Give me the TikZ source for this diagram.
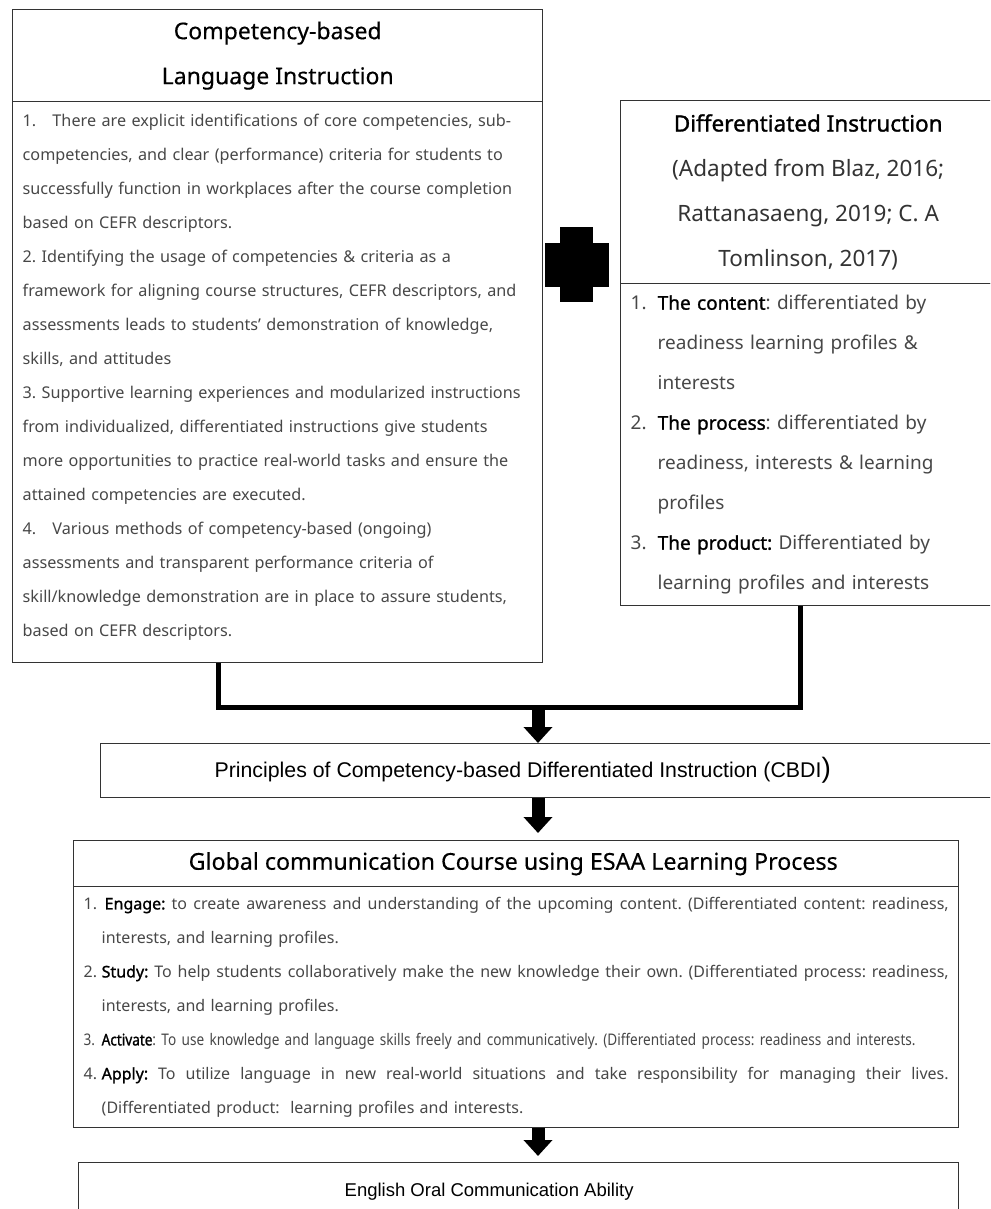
\documentclass[tikz,border=0pt]{standalone}
\usepackage{fontspec}
\setmainfont{Noto Sans}[AutoFakeBold=1.3]
\newfontfamily\arialfont{Liberation Sans}
\newfontfamily\condfont[FakeStretch=0.85,AutoFakeBold=1.3]{Noto Sans}
\newfontfamily\semifont[FakeBold=0.4]{Noto Sans}
\usetikzlibrary{arrows.meta,positioning}

\newcommand{\numlab}[2][27pt]{\makebox[#1][l]{#2}}
\newcommand{\justline}[2]{\makebox[#1][s]{\spaceskip=0pt\xspaceskip=0pt\relax #2}}

\begin{document}
\frenchspacing
\begin{tikzpicture}[
    x=1pt, y=-1pt,
    box/.style={
        rectangle,
        draw=black!80,
        line width=1.4pt,
        inner sep=0pt,
        anchor=north west
    },
    head/.style={
        box,
        align=center,
        text=black
    },
    body/.style={
        box,
        align=left,
        text=black!72
    },
    joinline/.style={
        line width=5pt,
        black
    },
    bigarrow/.style={
        line width=13pt,
        -{Triangle[width=28pt,length=16pt]},
        black
    }
]

\useasboundingbox (0,0) rectangle (990,1209);
\clip (0,0) rectangle (990,1209);

% Competency-based box
\node[head, minimum width=530, minimum height=92,
      font=\semifont\fontsize{23}{45}\selectfont] (cbliHead) at (12,9) {
    Competency-based\\Language Instruction
};
\node[body, minimum width=530, minimum height=561, text width=510, inner xsep=10pt,
      font=\fontsize{16.2}{34}\selectfont] (cbliBody) at (12,101) {
    1.\ \ \ There are explicit identifications of core competencies, sub-\\
    competencies, and clear (performance) criteria for students to\\
    successfully function in workplaces after the course completion\\
    based on CEFR descriptors.\\
    2. Identifying the usage of competencies \& criteria as a\\
    framework for aligning course structures, CEFR descriptors, and\\
    assessments leads to students’ demonstration of knowledge,\\
    skills, and attitudes\\
    3. Supportive learning experiences and modularized instructions\\
    from individualized, differentiated instructions give students\\
    more opportunities to practice real-world tasks and ensure the\\
    attained competencies are executed.\\
    4.\ \ \ Various methods of competency-based (ongoing)\\
    assessments and transparent performance criteria of\\
    skill/knowledge demonstration are in place to assure students,\\
    based on CEFR descriptors.\\[-20pt]
    \mbox{}
};

% Plus sign
\fill (560,227) rectangle (593,302);
\fill (545,243) rectangle (609,287);

% Differentiated Instruction box
\node[head, minimum width=375, minimum height=183,
      font=\fontsize{22.5}{45}\selectfont] (diHead) at (620,100) {
    \textbf{Differentiated Instruction}\\
    \textcolor{black!80}{(Adapted from Blaz, 2016;}\\
    \textcolor{black!80}{Rattanasaeng, 2019; C. A}\\
    \textcolor{black!80}{Tomlinson, 2017)}
};
\node[body, minimum width=375, minimum height=322, text width=355, inner xsep=10pt,
      font=\fontsize{19}{40}\selectfont] (diBody) at (620,283) {
    \numlab{1.}\textcolor{black}{\bfseries The content}: differentiated by\\
    \hspace*{27pt}readiness learning profiles \&\\
    \hspace*{27pt}interests\\
    \numlab{2.}\textcolor{black}{\bfseries The process}: differentiated by\\
    \hspace*{27pt}readiness, interests \& learning\\
    \hspace*{27pt}profiles\\
    \numlab{3.}\textcolor{black}{\bfseries The product:} Differentiated by\\
    \hspace*{27pt}learning profiles and interests
};

% Joining connector
\coordinate (merge) at (538,707);
\draw[joinline] ([xshift=206pt]cbliBody.south west) |- (merge) -| ([xshift=180pt]diBody.south west);

% Principles box
\node[head, minimum width=895, minimum height=54,
      font=\arialfont\fontsize{21.3}{24}\selectfont] (cbdi) at (100,743) {
    Principles of Competency-based Differentiated Instruction (CBDI{\fontsize{28}{24}\selectfont)}\hspace{45pt}
};

% Global communication box
\node[head, minimum width=885, minimum height=46,
      font=\semifont\fontsize{23.2}{26}\selectfont] (globalHead) at (73,840) {
    Global communication Course using ESAA Learning Process
};
\node[body, minimum width=885, minimum height=241, text width=865, inner xsep=10pt,
      font=\fontsize{16}{34}\selectfont] (globalBody) at (73,886) {
    \numlab[18pt]{1.}\justline{847pt}{\hspace*{3pt}\textcolor{black}{\bfseries Engage:} to create awareness and understanding of the upcoming content. (Differentiated content: readiness,}\\
    \hspace*{18pt}interests, and learning profiles.\\
    \numlab[18pt]{2.}\justline{847pt}{\textcolor{black}{\bfseries Study:} To help students collaboratively make the new knowledge their own. (Differentiated process: readiness,}\\
    \hspace*{18pt}interests, and learning profiles.\\
    \mbox{\condfont\numlab[18pt]{3.}\textcolor{black}{\bfseries Activate}: To use knowledge and language skills freely and communicatively. (Differentiated process: readiness and interests.}\\
    \numlab[18pt]{4.}\justline{847pt}{\textcolor{black}{\bfseries Apply:} To utilize language in new real-world situations and take responsibility for managing their lives.}\\
    \hspace*{18pt}(Differentiated product:\ \ learning profiles and interests.
};

% English Oral box
\node[head, minimum width=880, minimum height=58,
      font=\arialfont\fontsize{18.5}{22}\selectfont] (english) at (78,1162) {
    English Oral Communication Ability\hspace{54pt}
};

% Arrows
\draw[bigarrow] (merge) -- (cbdi.north -| merge);
\draw[bigarrow, shorten >=7pt] (cbdi.south -| merge) -- (globalHead.north -| merge);
\draw[bigarrow, shorten >=6pt] (globalBody.south -| merge) -- (english.north -| merge);

\end{tikzpicture}
\end{document}
